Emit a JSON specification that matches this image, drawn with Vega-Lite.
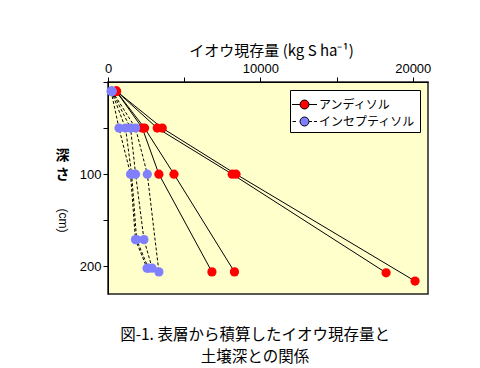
{
  "$schema": "https://vega.github.io/schema/vega-lite/v6.json",
  "width": 320,
  "height": 212,
  "autosize": "none",
  "padding": {"left": 108, "top": 82, "right": 52, "bottom": 74},
  "background": "white",
  "config": {
    "font": "Liberation Sans, Noto Sans CJK JP",
    "view": {"fill": "#FFFFCC", "stroke": "#222222", "strokeWidth": 1.5},
    "axis": {"grid": false, "domainColor": "black", "tickColor": "black", "labelColor": "black", "titleColor": "black", "labelFontSize": 13, "titleFontSize": 15, "titleFontWeight": "normal", "tickSize": 5},
    "legend": {
      "orient": "none",
      "legendX": 182,
      "legendY": 8,
      "fillColor": "white",
      "strokeColor": "black",
      "padding": 4,
      "symbolSize": 400,
      "symbolStrokeColor": "black",
      "symbolStrokeWidth": 1,
      "labelFontSize": 12,
      "labelFont": "Noto Sans CJK JP",
      "labelColor": "black",
      "labelOffset": 4,
      "rowPadding": -4
    }
  },
  "title": {
    "text": ["図-1.  表層から積算したイオウ現存量と", "土壌深との関係"],
    "orient": "bottom",
    "anchor": "middle",
    "fontSize": 15.5,
    "fontWeight": "normal",
    "font": "Noto Sans CJK JP",
    "offset": 34,
    "lineHeight": 22,
    "dx": -13,
    "color": "black"
  },
  "data": {
    "values": [
      {"soil": "アンディソル", "profile": "A1", "depth": 10, "s": 540},
      {"soil": "アンディソル", "profile": "A1", "depth": 50, "s": 2250},
      {"soil": "アンディソル", "profile": "A1", "depth": 100, "s": 3340},
      {"soil": "アンディソル", "profile": "A1", "depth": 206, "s": 6820},
      {"soil": "アンディソル", "profile": "A2", "depth": 10, "s": 540},
      {"soil": "アンディソル", "profile": "A2", "depth": 50, "s": 2400},
      {"soil": "アンディソル", "profile": "A2", "depth": 100, "s": 4330},
      {"soil": "アンディソル", "profile": "A2", "depth": 206, "s": 8300},
      {"soil": "アンディソル", "profile": "A3", "depth": 10, "s": 560},
      {"soil": "アンディソル", "profile": "A3", "depth": 50, "s": 3230},
      {"soil": "アンディソル", "profile": "A3", "depth": 100, "s": 8150},
      {"soil": "アンディソル", "profile": "A3", "depth": 207, "s": 18250},
      {"soil": "アンディソル", "profile": "A4", "depth": 10, "s": 560},
      {"soil": "アンディソル", "profile": "A4", "depth": 50, "s": 3560},
      {"soil": "アンディソル", "profile": "A4", "depth": 100, "s": 8400},
      {"soil": "アンディソル", "profile": "A4", "depth": 216, "s": 20150},
      {"soil": "インセプティソル", "profile": "I1", "depth": 10, "s": 200},
      {"soil": "インセプティソル", "profile": "I1", "depth": 50, "s": 720},
      {"soil": "インセプティソル", "profile": "I1", "depth": 100, "s": 1480},
      {"soil": "インセプティソル", "profile": "I1", "depth": 171, "s": 1800},
      {"soil": "インセプティソル", "profile": "I1", "depth": 202, "s": 2560},
      {"soil": "インセプティソル", "profile": "I2", "depth": 10, "s": 230},
      {"soil": "インセプティソル", "profile": "I2", "depth": 50, "s": 1150},
      {"soil": "インセプティソル", "profile": "I2", "depth": 100, "s": 1550},
      {"soil": "インセプティソル", "profile": "I2", "depth": 171, "s": 1880},
      {"soil": "インセプティソル", "profile": "I2", "depth": 202, "s": 2650},
      {"soil": "インセプティソル", "profile": "I3", "depth": 10, "s": 260},
      {"soil": "インセプティソル", "profile": "I3", "depth": 50, "s": 1480},
      {"soil": "インセプティソル", "profile": "I3", "depth": 100, "s": 1810},
      {"soil": "インセプティソル", "profile": "I3", "depth": 171, "s": 2360},
      {"soil": "インセプティソル", "profile": "I3", "depth": 202, "s": 2900},
      {"soil": "インセプティソル", "profile": "I4", "depth": 10, "s": 280},
      {"soil": "インセプティソル", "profile": "I4", "depth": 50, "s": 1810},
      {"soil": "インセプティソル", "profile": "I4", "depth": 100, "s": 2580},
      {"soil": "インセプティソル", "profile": "I4", "depth": 206, "s": 3340}
    ]
  },
  "layer": [
    {
      "transform": [{"filter": "datum.soil == 'アンディソル'"}],
      "mark": {"type": "line", "color": "black", "strokeWidth": 1},
      "encoding": {
        "x": {
          "field": "s", "type": "quantitative",
          "scale": {"domain": [0, 21000], "nice": false, "zero": false},
          "axis": {
            "orient": "top",
            "values": [0, 5000, 10000, 15000, 20000],
            "labelExpr": "datum.value % 10000 == 0 ? datum.value : ''",
            "format": "d",
            "title": "イオウ現存量  (kg S ha⁻¹)",
            "titleFont": "Noto Sans CJK JP",
            "titlePadding": 4,
            "labelPadding": 2,
            "labelFlush": false,
            "titleX": 163
          }
        },
        "y": {
          "field": "depth", "type": "quantitative",
          "scale": {"domain": [0, 230], "reverse": true, "nice": false, "zero": false},
          "axis": {
            "orient": "left",
            "values": [0, 50, 100, 150, 200],
            "labelExpr": "datum.value == 100 || datum.value == 200 ? datum.value : ''",
            "title": ["深", "さ"],
            "titleFont": "Noto Sans CJK JP",
            "titleFontWeight": "bold",
            "titleFontSize": 14,
            "titleAngle": 0,
            "titleAlign": "center",
            "titleBaseline": "middle",
            "titleLineHeight": 19,
            "titleX": -46,
            "titleY": 73
          }
        },
        "detail": {"field": "profile"},
        "order": {"field": "depth", "type": "quantitative"}
      }
    },
    {
      "transform": [{"filter": "datum.soil == 'インセプティソル'"}],
      "mark": {"type": "line", "color": "black", "strokeWidth": 1, "strokeDash": [3, 2]},
      "encoding": {
        "x": {"field": "s", "type": "quantitative"},
        "y": {"field": "depth", "type": "quantitative", "axis": null},
        "detail": {"field": "profile"},
        "order": {"field": "depth", "type": "quantitative"}
      }
    },
    {
      "mark": {"type": "point", "filled": true, "opacity": 1, "size": 85, "shape": "circle"},
      "encoding": {
        "x": {"field": "s", "type": "quantitative"},
        "y": {
          "field": "depth", "type": "quantitative",
          "axis": {
            "orient": "left", "domain": false, "ticks": false, "labels": false,
            "title": "(cm)", "titleAngle": 90, "titleAlign": "center", "titleBaseline": "middle",
            "titleX": -46, "titleY": 138, "titleFontSize": 12
          }
        },
        "color": {
          "field": "soil", "type": "nominal",
          "scale": {"domain": ["アンディソル", "インセプティソル"], "range": ["#FF0000", "#8080FF"]},
          "legend": {"title": null}
        }
      }
    },
    {
      "transform": [{"filter": "datum.depth < 0"}],
      "mark": {"type": "point", "filled": true, "opacity": 1, "size": 400, "stroke": "black", "strokeWidth": 1},
      "encoding": {
        "x": {"field": "s", "type": "quantitative"},
        "y": {"field": "depth", "type": "quantitative", "axis": null},
        "color": {"field": "soil", "type": "nominal", "legend": {"title": null}},
        "shape": {
          "field": "soil", "type": "nominal",
          "scale": {
            "domain": ["アンディソル", "インセプティソル"],
            "range": [
              "M-1.25,0H-0.45M0.45,0H1.25M0.45,0A0.45,0.45 0 1,1 -0.45,0A0.45,0.45 0 1,1 0.45,0Z",
              "M-1.2,0H-0.85M0.45,0H0.75M0.95,0H1.25M0.45,0A0.45,0.45 0 1,1 -0.45,0A0.45,0.45 0 1,1 0.45,0Z"
            ]
          },
          "legend": {"title": null}
        }
      }
    }
  ],
  "resolve": {"axis": {"y": "independent"}}
}
